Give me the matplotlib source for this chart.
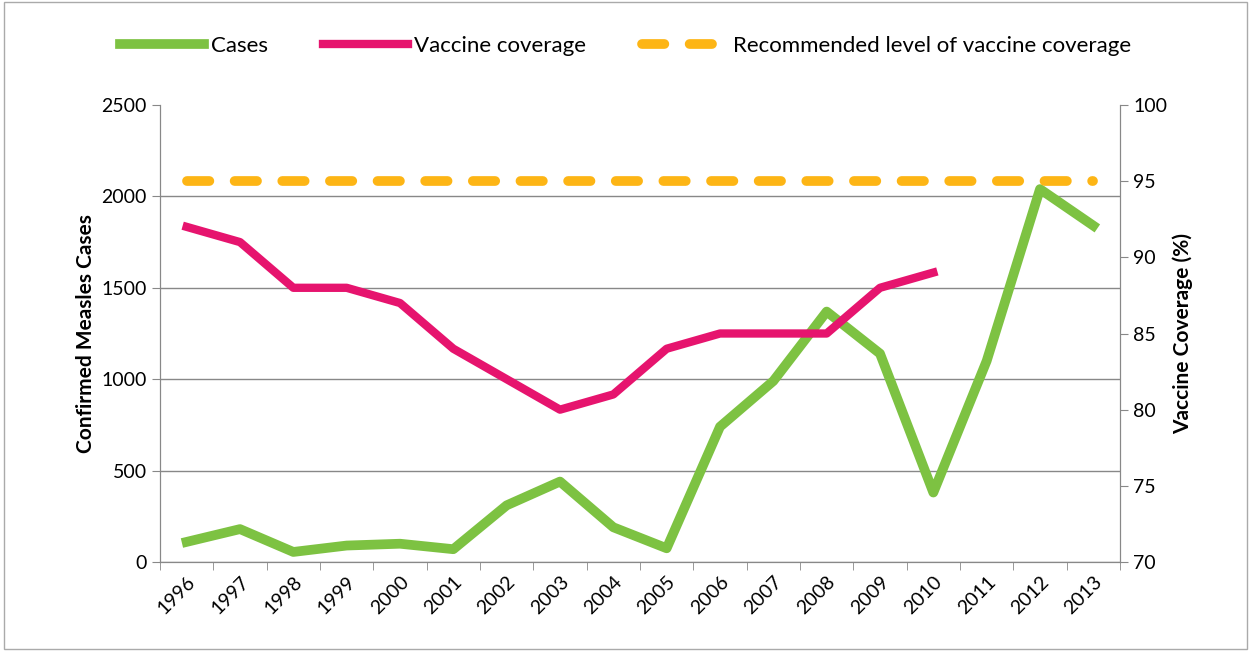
import numpy as np
import matplotlib
matplotlib.use("Agg")
import matplotlib.pyplot as plt

plt.rcParams['font.family'] = ['Lato', 'DejaVu Sans']

years = [str(y) for y in range(1996, 2014)]
cases = [110, 180, 55, 90, 100, 70, 310, 440, 190, 75, 740, 990, 1370, 1140, 380, 1100, 2040, 1840]
coverage = [92, 91, 88, 88, 87, 84, 82, 80, 81, 84, 85, 85, 85, 88, 89]
recommended = [95] * len(years)

fig = plt.figure(figsize=(12.51, 6.51), dpi=100)
ax = fig.add_axes([160 / 1251, 1 - 562 / 651, 960 / 1251, 457 / 651])
ax2 = ax.twinx()

x = np.arange(len(years))
l1, = ax.plot(x, cases, color='#7DC242', lw=7)
l2, = ax2.plot(x[:len(coverage)], coverage, color='#E6146E', lw=6)
l3, = ax2.plot(x, recommended, color='#FDB515', lw=7, dashes=(2.3, 2.6),
               dash_capstyle='round')

ax.set_xlim(-0.5, len(years) - 0.5)
ax.set_ylim(0, 2500)
ax2.set_ylim(70, 100)
ax.set_yticks(range(0, 2501, 500))
ax2.set_yticks(range(70, 101, 5))
ax.grid(axis='y', color='#888888', lw=1)
ax.get_ygridlines()[-1].set_visible(False)
ax.set_axisbelow(True)
ax.set_xticks(x)
ax.set_xticklabels(years, rotation=45, ha='right', rotation_mode='anchor', fontsize=14)
ax.set_xticks(np.arange(-0.5, len(years)), minor=True)
ax.tick_params(axis='x', which='major', length=0, pad=8)
ax.tick_params(axis='x', which='minor', length=6, color='#888888')
ax.tick_params(axis='y', length=6, color='#888888', labelsize=14)
ax2.tick_params(axis='y', length=6, color='#888888', labelsize=14)
for a in (ax, ax2):
    a.spines['top'].set_visible(False)
    for s in ('left', 'right', 'bottom'):
        a.spines[s].set_color('#888888')

ax.set_ylabel('Confirmed Measles Cases', fontsize=15, fontweight='bold')
ax2.set_ylabel('Vaccine Coverage (%)', fontsize=15, fontweight='bold')

fig.legend([l1, l2, l3], ['Cases', 'Vaccine coverage', 'Recommended level of vaccine coverage'],
           loc='upper center', bbox_to_anchor=(0.5, 0.975), ncol=3, frameon=False,
           fontsize=16, handlelength=3.8, columnspacing=2.5, handletextpad=0.3)

fig.patches.append(plt.Rectangle((0.003, 0.003), 0.994, 0.994, transform=fig.transFigure,
                                 fill=False, edgecolor='#AAAAAA', lw=1))
fig.savefig('out.png', dpi=100)
